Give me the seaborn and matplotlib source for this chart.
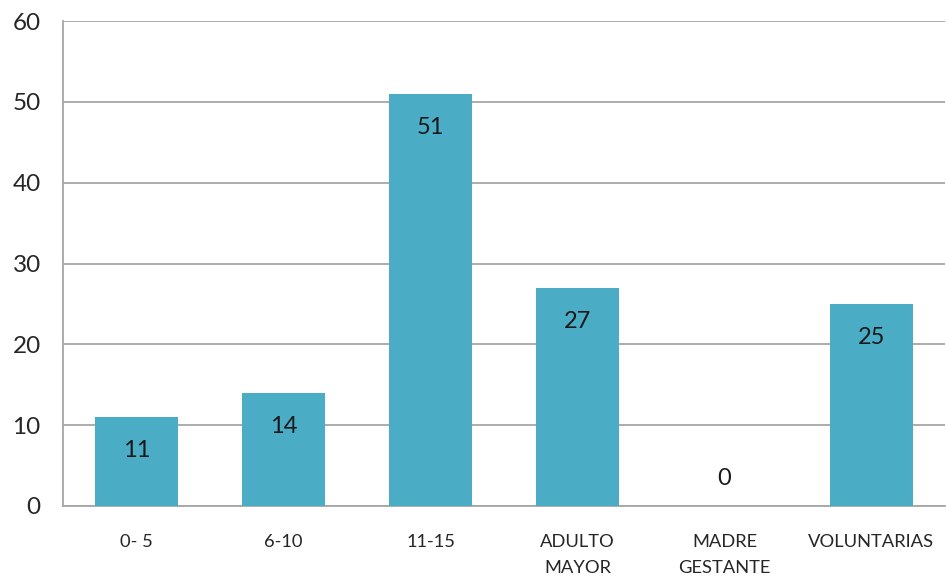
import matplotlib
matplotlib.use("Agg")
import matplotlib.pyplot as plt
import seaborn as sns
import pandas as pd

categories = ["0- 5", "6-10", "11-15", "ADULTO\nMAYOR", "MADRE\nGESTANTE", "VOLUNTARIAS"]
values = [11, 14, 51, 27, 0, 25]
y_ticks = [0, 10, 20, 30, 40, 50, 60]

sns.set_theme(style="white")
plt.rcParams['font.family'] = ['Lato', 'DejaVu Sans']

df = pd.DataFrame({"cat": categories, "val": values})

fig = plt.figure(figsize=(9.46, 5.85), dpi=100)
ax = fig.add_axes([63/946, 79/585, 882/946, 485/585])

sns.barplot(data=df, x="cat", y="val", color="#4BACC6", width=0.565,
            saturation=1, ax=ax, zorder=3, edgecolor="none")

ax.set_ylim(0, 60)
ax.set_yticks(y_ticks)
ax.set_xlim(-0.5, len(categories) - 0.5)
ax.yaxis.grid(True, color="#A6A6A6", linewidth=1.3, zorder=0)
ax.set_axisbelow(True)
for s in ["top", "right"]:
    ax.spines[s].set_visible(False)
for s in ["left", "bottom"]:
    ax.spines[s].set_color("#A6A6A6")
    ax.spines[s].set_linewidth(1.3)
ax.tick_params(axis="y", length=0, pad=16, labelsize=17.5, labelcolor="#262626")
ax.tick_params(axis="x", length=0, pad=20, labelsize=13.2, labelcolor="#262626")
ax.set_xlabel("")
ax.set_ylabel("")
for lbl in ax.get_xticklabels():
    lbl.set_linespacing(1.75)

for i, v in enumerate(values):
    off = -24 if v > 0 else 20
    ax.annotate(str(v), xy=(i, v), xytext=(0, off), textcoords="offset points",
                ha="center", va="center", fontsize=17, color="#1a1a1a", zorder=5)

fig.savefig("out.png", dpi=100)
